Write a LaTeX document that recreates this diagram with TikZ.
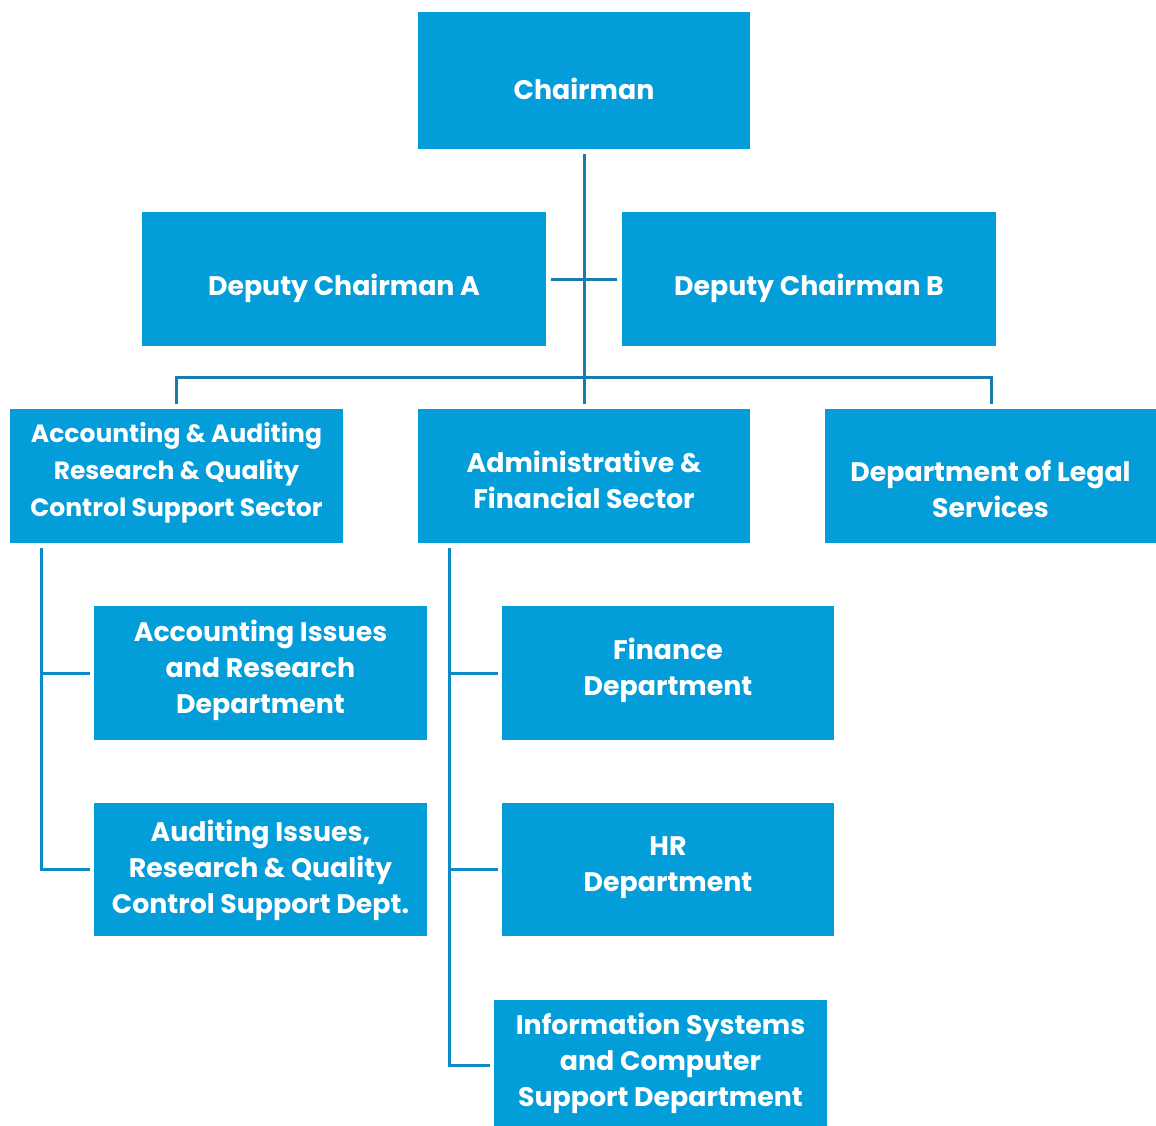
\documentclass[tikz,border=0pt]{standalone}
\usepackage{fontspec}
\setmainfont{Poppins}
\definecolor{boxblue}{RGB}{3,158,217}
\definecolor{lineA}{RGB}{22,125,172}
\definecolor{lineB}{RGB}{12,140,198}
\begin{document}
\begin{tikzpicture}[x=1pt,y=-1pt,
  box/.style={fill=boxblue,draw=none,inner sep=0pt,outer sep=0pt,text=white,
    font=\fontsize{26.8}{36}\selectfont\bfseries,align=center},
  small/.style={font=\fontsize{25}{37}\selectfont\bfseries},
  lnA/.style={draw=lineA,line width=3pt},
  lnB/.style={draw=lineB,line width=3pt}]
\useasboundingbox (0,0) rectangle (1156,1126);
\newcommand{\bx}[7]{\fill[boxblue] (#2,#3) rectangle (#4,#5);
  \node[box,#7] (#1) at ({(#2+#4)/2},{(#3+#5)/2}) {#6};}
\bx{ch}{418}{12}{750}{149}{Chairman}{yshift=-8pt}
\bx{da}{142}{212}{546}{346}{Deputy Chairman A}{yshift=-9pt}
\bx{db}{622}{212}{996}{346}{Deputy Chairman B}{yshift=-9pt}
\bx{s1}{10}{409}{343}{543}{Accounting \& Auditing\\Research \& Quality\\Control Support Sector}{small,yshift=3pt}
\bx{s2}{418}{409}{750}{543}{Administrative \&\\Financial Sector}{yshift=-4pt}
\bx{lg}{825}{409}{1156}{543}{Department of Legal\\Services}{yshift=-13pt}
\bx{ai}{94}{606}{427}{740}{Accounting Issues\\and Research\\Department}{yshift=3pt}
\bx{au}{94}{803}{427}{936}{Auditing Issues,\\Research \& Quality\\Control Support Dept.}{yshift=-1pt}
\bx{fi}{502}{606}{834}{740}{Finance\\Department}{yshift=3pt}
\bx{hr}{502}{803}{834}{936}{HR\\Department}{yshift=2pt}
\bx{is}{494}{1000}{827}{1130}{Information Systems\\and Computer\\Support Department}{yshift=2pt}
% connector anchor points
\coordinate (c1) at (584,154);
\coordinate (c2) at (584,404);
\coordinate (dl) at (551,279);
\coordinate (dr) at (617,279);
\coordinate (bl0) at (176,404);
\coordinate (bl) at (176,377);
\coordinate (br) at (991,377);
\coordinate (br0) at (991,404);
\coordinate (l0) at (41,548);
\coordinate (l1) at (41,673);
\coordinate (l2) at (41,869);
\coordinate (l1e) at (90,673);
\coordinate (l2e) at (90,869);
\coordinate (m0) at (449,548);
\coordinate (m1) at (449,673);
\coordinate (m2) at (449,869);
\coordinate (m3) at (449,1065);
\coordinate (m1e) at (498,673);
\coordinate (m2e) at (498,869);
\coordinate (m3e) at (490,1065);
\draw[lnA] (c1) -- (c2);
\draw[lnA] (dl) -- (dr);
\draw[lnA] (bl0) -- (bl) -- (br) -- (br0);
\draw[lnB] (l0) -- (l2) -- (l2e);
\draw[lnB] (l1) -- (l1e);
\draw[lnB] (m0) -- (m3) -- (m3e);
\draw[lnB] (m1) -- (m1e);
\draw[lnB] (m2) -- (m2e);
\end{tikzpicture}
\end{document}
